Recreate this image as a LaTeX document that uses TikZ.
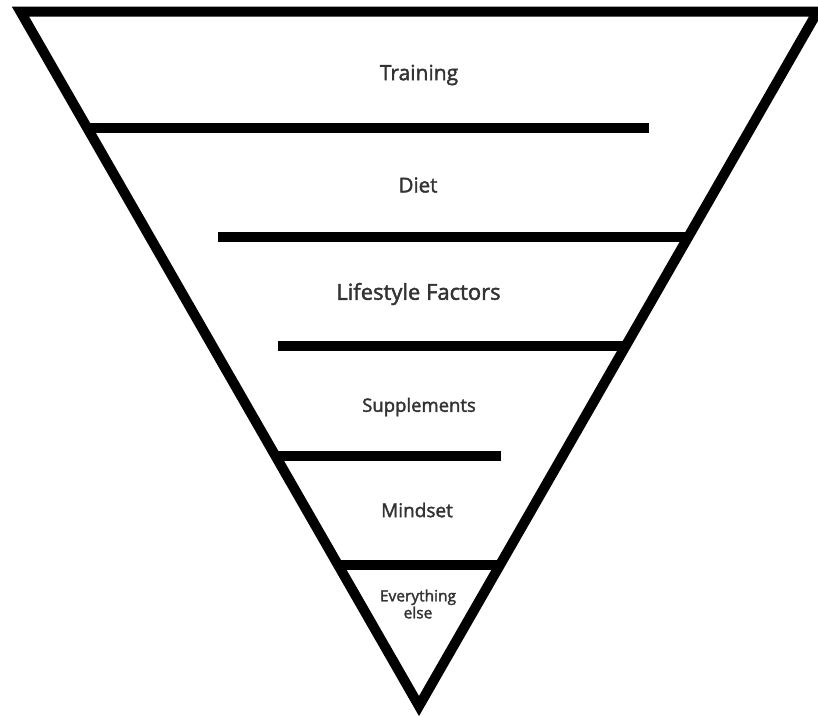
\documentclass[tikz,border=0pt]{standalone}
\usepackage{fontspec}
\setmainfont{Open Sans}
\newfontfamily\lblfont{Open Sans}[FakeBold=2]
\definecolor{txt}{HTML}{333333}
\begin{document}
\begin{tikzpicture}[x=1pt,y=-1pt,
  edge/.style={line width=10pt, line join=miter, black},
  bar/.style={line width=10pt, line cap=butt, black},
  lbl/.style={text=txt, inner sep=0pt, align=center, anchor=center}]
\useasboundingbox (0,0) rectangle (818,716);
% triangle vertices
\coordinate (tl) at (20.4,11.5);
\coordinate (tr) at (817.6,11.5);
\coordinate (ap) at (419,706);
\draw[edge] (tl) -- (tr) -- (ap) -- cycle;
% bars
\coordinate (b1l) at (86.9,127.5);  \coordinate (b1r) at (649,127.5);
\coordinate (b2l) at (217.5,237);   \coordinate (b2r) at (688.2,237);
\coordinate (b3l) at (278.3,346.3); \coordinate (b3r) at (625.5,346.3);
\coordinate (b4l) at (275.5,456);   \coordinate (b4r) at (500.7,456);
\coordinate (b5l) at (338.1,565);   \coordinate (b5r) at (499.9,565);
\draw[bar] (b1l) -- (b1r);
\draw[bar] (b2l) -- (b2r);
\draw[bar] (b3l) -- (b3r);
\draw[bar] (b4l) -- (b4r);
\draw[bar] (b5l) -- (b5r);
% labels
\node[lbl, font=\lblfont\fontsize{21}{24}\selectfont] (t1) at (419,75) {Training};
\node[lbl, font=\lblfont\fontsize{20.5}{24}\selectfont] (t2) at (418,185) {Diet};
\node[lbl, font=\lblfont\fontsize{22}{24}\selectfont] (t3) at (418.5,294) {Lifestyle Factors};
\node[lbl, font=\lblfont\fontsize{18.5}{22}\selectfont] (t4) at (419,407) {Supplements};
\node[lbl, font=\lblfont\fontsize{19}{22}\selectfont] (t5) at (417,510) {Mindset};
\node[lbl, font=\lblfont\fontsize{15.5}{17}\selectfont] (t6) at (418,604) {Everything\\else};
\end{tikzpicture}
\end{document}
